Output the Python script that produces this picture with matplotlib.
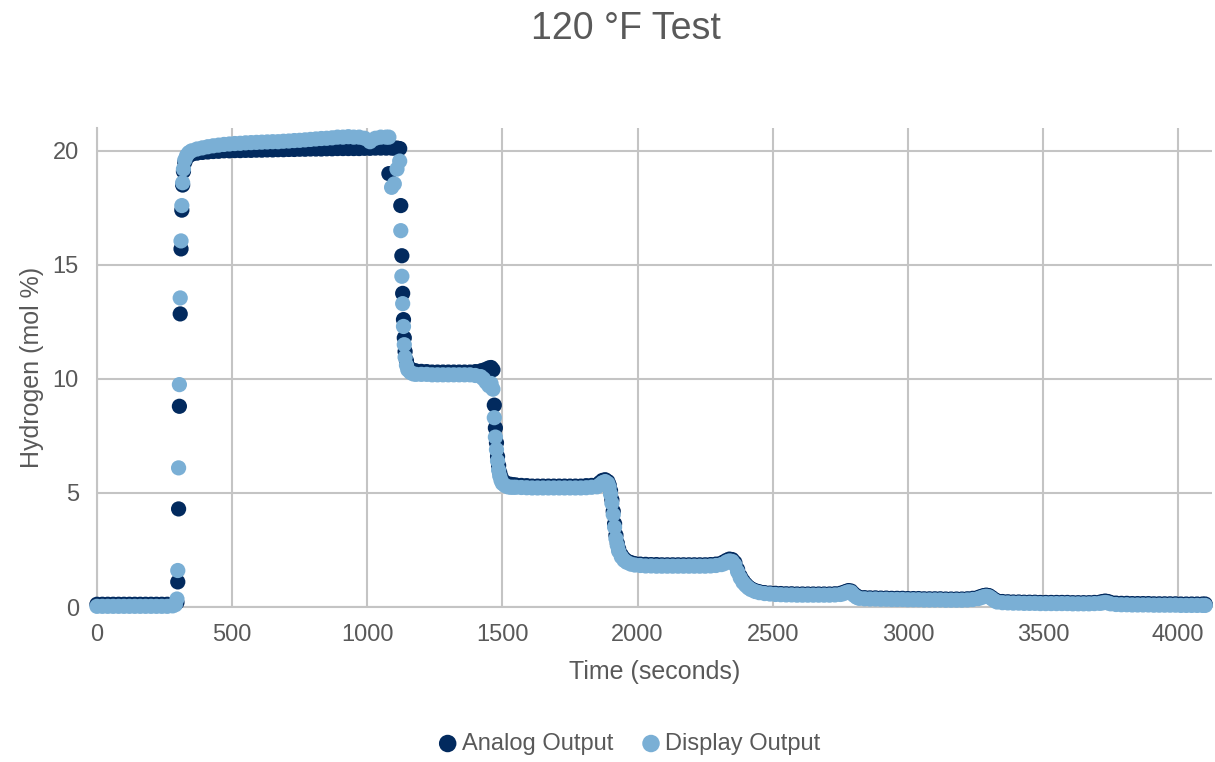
import matplotlib
matplotlib.use("Agg")
import matplotlib.pyplot as plt

# ---------------- data ----------------
time_s = (
    [0, 20, 40, 60, 80, 100, 120, 140, 160, 180, 200, 220, 240, 260, 280, 290]
    + [296, 299, 302, 305, 308, 311, 314, 317, 320, 325, 332, 340]
    + [350, 370, 390, 410, 430, 450, 470, 490, 510, 530, 550, 570, 590, 610, 630, 650, 670, 690, 710,
       730, 750, 770, 790, 810, 830, 850, 870, 890, 910, 930, 950, 970, 990, 1010, 1030, 1050, 1070]
    + [1080, 1090, 1100, 1110, 1120, 1124, 1128, 1131, 1134, 1137, 1140, 1145, 1150, 1160, 1170]
    + [1180, 1200, 1220, 1240, 1260, 1280, 1300, 1320, 1340, 1360, 1380, 1400, 1420]
    + [1430, 1440, 1450, 1458, 1465, 1470, 1474, 1478, 1482, 1486, 1490, 1495, 1500, 1510, 1520, 1530, 1540]
    + [1550, 1570, 1590, 1610, 1630, 1650, 1670, 1690, 1710, 1730, 1750, 1770, 1790, 1810, 1830, 1850]
    + [1860, 1870, 1880, 1890, 1895, 1900, 1905, 1910, 1915, 1920, 1925, 1930, 1940, 1950, 1960, 1975, 1990, 2010]
    + [2030, 2050, 2070, 2090, 2110, 2130, 2150, 2170, 2190, 2210, 2230, 2250, 2270, 2290, 2310]
    + [2320, 2330, 2340, 2350, 2360, 2370, 2380, 2390, 2400, 2410, 2420, 2435, 2450, 2470, 2490]
    + [2510, 2530, 2550, 2570, 2590, 2610, 2630, 2650, 2670, 2690, 2710, 2730, 2750]
    + [2760, 2770, 2780, 2790, 2800, 2810, 2820]
    + [2840, 2860, 2880, 2900, 2920, 2940, 2960, 2980, 3000, 3020, 3040, 3060, 3080, 3100, 3120, 3140,
       3160, 3180, 3200, 3220, 3240, 3260]
    + [3270, 3280, 3290, 3300, 3310, 3320, 3330]
    + [3350, 3370, 3390, 3410, 3430, 3450, 3470, 3490, 3510, 3530, 3550, 3570, 3590, 3610, 3630, 3650,
       3670, 3690, 3710]
    + [3720, 3730, 3740, 3750]
    + [3770, 3790, 3810, 3830, 3850, 3870, 3890, 3910, 3930, 3950, 3970, 3990, 4010, 4030, 4050, 4070, 4090, 4100]
)

analog = (
    [0.12, 0.12, 0.12, 0.12, 0.12, 0.12, 0.12, 0.12, 0.12, 0.12, 0.12, 0.12, 0.12, 0.12, 0.13, 0.15]
    + [0.2, 1.1, 4.3, 8.8, 12.85, 15.7, 17.4, 18.5, 19.1, 19.5, 19.7, 19.8]
    + [19.85, 19.9, 19.93, 19.95, 19.97, 19.98, 20.0, 20.0, 20.01, 20.01, 20.02, 20.02, 20.03, 20.03,
       20.04, 20.04, 20.05, 20.05, 20.06, 20.06, 20.07, 20.07, 20.08, 20.08, 20.08, 20.09, 20.09, 20.1,
       20.1, 20.1, 20.1, 20.1, 20.11, 20.11, 20.12, 20.12, 20.12]
    + [19.0, 20.12, 20.12, 20.12, 20.1, 17.6, 15.4, 13.75, 12.6, 11.8, 11.2, 10.8, 10.55, 10.42, 10.38]
    + [10.35, 10.33, 10.32, 10.3, 10.3, 10.3, 10.3, 10.3, 10.3, 10.3, 10.3, 10.32, 10.35]
    + [10.38, 10.42, 10.48, 10.5, 10.4, 8.85, 7.85, 7.2, 6.6, 6.2, 5.9, 5.7, 5.55, 5.45, 5.4, 5.38, 5.36]
    + [5.35, 5.33, 5.32, 5.3, 5.3, 5.3, 5.3, 5.3, 5.3, 5.3, 5.3, 5.3, 5.3, 5.32, 5.33, 5.35]
    + [5.45, 5.55, 5.58, 5.5, 5.35, 5.1, 4.7, 4.2, 3.65, 3.15, 2.8, 2.55, 2.28, 2.12, 2.02, 1.95, 1.9, 1.88]
    + [1.87, 1.86, 1.86, 1.85, 1.85, 1.85, 1.85, 1.85, 1.85, 1.85, 1.85, 1.85, 1.86, 1.88, 1.92]
    + [1.98, 2.05, 2.1, 2.08, 1.95, 1.65, 1.35, 1.15, 1.0, 0.88, 0.8, 0.72, 0.67, 0.63, 0.61]
    + [0.6, 0.59, 0.58, 0.58, 0.57, 0.57, 0.57, 0.57, 0.57, 0.57, 0.57, 0.58, 0.6]
    + [0.63, 0.68, 0.72, 0.7, 0.58, 0.48, 0.43]
    + [0.41, 0.4, 0.4, 0.39, 0.39, 0.38, 0.38, 0.38, 0.37, 0.37, 0.37, 0.36, 0.36, 0.36, 0.36, 0.35,
       0.35, 0.35, 0.35, 0.36, 0.38, 0.42]
    + [0.46, 0.5, 0.52, 0.5, 0.42, 0.33, 0.27]
    + [0.24, 0.23, 0.22, 0.22, 0.21, 0.21, 0.21, 0.2, 0.2, 0.2, 0.2, 0.2, 0.2, 0.19, 0.19, 0.19, 0.19,
       0.2, 0.21]
    + [0.24, 0.26, 0.24, 0.2]
    + [0.17, 0.16, 0.16, 0.15, 0.15, 0.15, 0.15, 0.14, 0.14, 0.14, 0.14, 0.14, 0.13, 0.13, 0.13, 0.13, 0.13, 0.13]
)

display = (
    [0.03, 0.03, 0.03, 0.03, 0.03, 0.03, 0.03, 0.03, 0.03, 0.03, 0.03, 0.03, 0.03, 0.03, 0.05, 0.1]
    + [0.35, 1.6, 6.1, 9.75, 13.55, 16.05, 17.6, 18.6, 19.2, 19.6, 19.8, 19.92]
    + [20.0, 20.08, 20.13, 20.18, 20.22, 20.25, 20.28, 20.3, 20.32, 20.33, 20.35, 20.36, 20.37, 20.38,
       20.39, 20.4, 20.4, 20.42, 20.43, 20.45, 20.46, 20.48, 20.5, 20.52, 20.54, 20.55, 20.57, 20.6,
       20.6, 20.62, 20.6, 20.6, 20.55, 20.4, 20.55, 20.6, 20.6]
    + [20.6, 18.4, 18.55, 19.2, 19.55, 16.5, 14.5, 13.3, 12.3, 11.5, 10.95, 10.6, 10.4, 10.28, 10.22]
    + [10.2, 10.2, 10.2, 10.18, 10.18, 10.18, 10.18, 10.18, 10.18, 10.18, 10.18, 10.15, 10.1]
    + [10.0, 9.85, 9.7, 9.8, 9.55, 8.3, 7.45, 6.9, 6.4, 6.0, 5.75, 5.55, 5.42, 5.32, 5.27, 5.25, 5.25]
    + [5.25, 5.24, 5.23, 5.22, 5.22, 5.22, 5.22, 5.22, 5.22, 5.22, 5.22, 5.22, 5.22, 5.23, 5.25, 5.27]
    + [5.35, 5.45, 5.5, 5.42, 5.25, 4.95, 4.55, 4.05, 3.5, 3.0, 2.7, 2.45, 2.2, 2.05, 1.96, 1.88, 1.84, 1.82]
    + [1.8, 1.8, 1.79, 1.79, 1.79, 1.79, 1.79, 1.79, 1.79, 1.79, 1.79, 1.79, 1.8, 1.82, 1.86]
    + [1.9, 1.98, 2.02, 2.0, 1.85, 1.55, 1.28, 1.08, 0.95, 0.84, 0.76, 0.68, 0.63, 0.59, 0.57]
    + [0.55, 0.54, 0.53, 0.53, 0.52, 0.52, 0.52, 0.52, 0.52, 0.52, 0.52, 0.53, 0.55]
    + [0.58, 0.63, 0.67, 0.65, 0.52, 0.43, 0.38]
    + [0.36, 0.35, 0.35, 0.34, 0.34, 0.33, 0.33, 0.33, 0.32, 0.32, 0.32, 0.31, 0.31, 0.31, 0.31, 0.3,
       0.3, 0.3, 0.3, 0.31, 0.33, 0.37]
    + [0.41, 0.45, 0.47, 0.45, 0.37, 0.28, 0.22]
    + [0.19, 0.18, 0.17, 0.17, 0.16, 0.16, 0.16, 0.15, 0.15, 0.15, 0.15, 0.15, 0.15, 0.14, 0.14, 0.14,
       0.14, 0.15, 0.16]
    + [0.18, 0.2, 0.18, 0.14]
    + [0.11, 0.1, 0.1, 0.09, 0.09, 0.09, 0.09, 0.08, 0.08, 0.08, 0.08, 0.08, 0.07, 0.07, 0.07, 0.07, 0.07, 0.07]
)

series_names = ["Analog Output", "Display Output"]
x_ticks = [0, 500, 1000, 1500, 2000, 2500, 3000, 3500, 4000]
y_ticks = [0, 5, 10, 15, 20]
title_text = "120 °F Test"
x_label = "Time (seconds)"
y_label = "Hydrogen (mol %)"

# ---------------- style ----------------
plt.rcParams["font.family"] = ["Liberation Sans", "DejaVu Sans"]
TEXT = "#595959"
GRID = "#c4c4c4"
DARK = "#022a5e"
LIGHT = "#7aafd5"

fig = plt.figure(figsize=(12.15, 7.62), dpi=100)
ax = fig.add_axes([0.0798, 0.2034, 0.9177, 0.6286])

ax.scatter(time_s, analog, s=120, color=DARK, edgecolors="none", label=series_names[0],
           clip_on=False, zorder=3)
ax.scatter(time_s, display, s=120, color=LIGHT, edgecolors="none", label=series_names[1],
           clip_on=False, zorder=4)

ax.set_xlim(0, 4125)
ax.set_ylim(0, 21)
ax.set_xticks(x_ticks)
ax.set_yticks(y_ticks)
ax.grid(True, color=GRID, linewidth=1.5)
ax.set_axisbelow(True)
for side in ["top", "right"]:
    ax.spines[side].set_visible(False)
for side in ["left", "bottom"]:
    ax.spines[side].set_color(GRID)
    ax.spines[side].set_linewidth(1.5)
ax.tick_params(length=0, labelsize=17, colors=TEXT)
ax.tick_params(axis="x", pad=12)
ax.tick_params(axis="y", pad=13)

ax.set_xlabel(x_label, fontsize=18, color=TEXT, labelpad=10)
ax.set_ylabel(y_label, fontsize=18, color=TEXT, labelpad=6)
fig.text(0.515, 0.962, title_text, fontsize=27, color=TEXT, ha="center", va="center")

leg = fig.legend(loc="center", bbox_to_anchor=(0.517, 0.024), ncol=2, frameon=False,
                 fontsize=17, handlelength=1.0, handletextpad=0.1, columnspacing=1.1,
                 markerscale=1.15)
for t in leg.get_texts():
    t.set_color(TEXT)

fig.savefig("out.png", dpi=100)
